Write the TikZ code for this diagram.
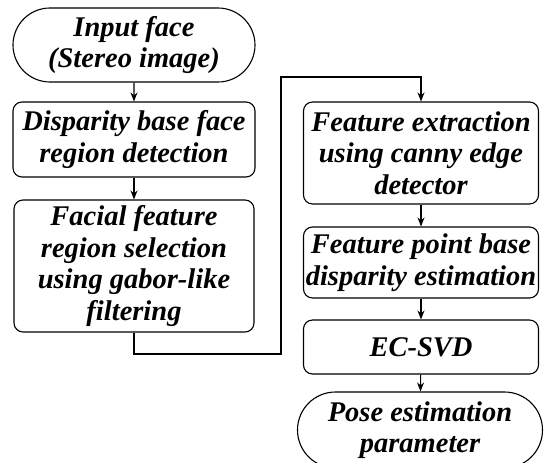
\documentclass[tikz,border=0pt]{standalone}
\usepackage{fontspec}
\setmainfont{Liberation Serif}
\usetikzlibrary{shapes.misc,arrows.meta}
\begin{document}
\begin{tikzpicture}[x=1pt,y=-1pt,
  txt/.style={font=\fontsize{28.5}{31.5}\selectfont\bfseries\itshape, align=center, inner sep=0pt, line width=1.1pt, draw=black},
  boxn/.style={txt, rectangle, rounded corners=9pt},
  stad/.style={txt, rounded rectangle},
  arr/.style={line width=1.1pt, -{Stealth[length=9pt,width=7pt]}}]
\useasboundingbox[fill=white] (0,0) rectangle (544,463);
\node[stad, minimum width=242pt, minimum height=74pt] (in) at (134,45) {Input face\\(Stereo image)};
\node[boxn, minimum width=242pt, minimum height=75pt] (dis) at (134,139.5) {Disparity base face\\region detection};
\node[boxn, minimum width=240pt, minimum height=132pt] (fac) at (134,266) {Facial feature\\region selection\\using gabor-like\\filtering};
\node[boxn, minimum width=235pt, minimum height=102pt] (fe) at (421,153) {Feature extraction\\using canny edge\\detector};
\node[boxn, minimum width=235pt, minimum height=71pt] (fp) at (421,262.5) {Feature point base\\disparity estimation};
\node[boxn, minimum width=235pt, minimum height=54pt] (ec) at (421,347) {EC-SVD};
\node[stad, minimum width=245pt, minimum height=76pt] (pose) at (420,430) {Pose estimation\\parameter};
\coordinate (b1) at (281,354);
\coordinate (b2) at (281,77);
\draw[arr] (in) -- (dis);
\draw[arr] (dis) -- (fac);
\draw[arr] (fac.south) |- (b1) -- (b2) -| (fe.north);
\draw[arr] (fe) -- (fp);
\draw[arr] (fp) -- (ec);
\draw[arr] (ec) -- (pose);
\end{tikzpicture}
\end{document}
